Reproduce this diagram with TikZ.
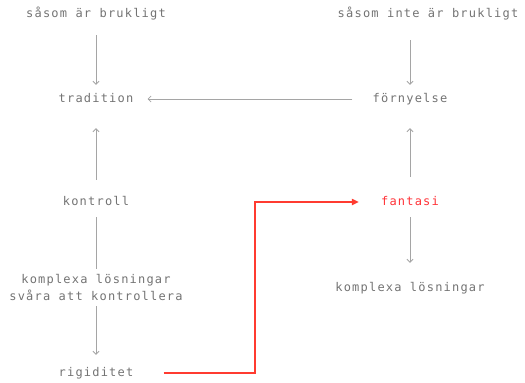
\documentclass[tikz,border=0pt]{standalone}
\usepackage{fontspec}
\usetikzlibrary{arrows.meta}
\newfontfamily\dmono{DejaVu Sans Mono}[LetterSpace=10]
\definecolor{txtgray}{RGB}{115,115,115}
\definecolor{linegray}{RGB}{165,165,165}
\definecolor{hotred}{RGB}{255,59,48}
\definecolor{redtxt}{RGB}{255,50,55}
\begin{document}
\begin{tikzpicture}[x=1pt,y=-1pt,
  lbl/.style={inner sep=0pt, text=txtgray, font=\dmono\fontsize{12}{17}\selectfont, text height=9pt, text depth=3pt},
  lbl2/.style={inner sep=0pt, text=txtgray, font=\dmono\fontsize{12}{17}\selectfont, align=center},
  conn/.style={draw=linegray, line width=0.8pt},
  arr/.style={conn, -{Straight Barb[length=3pt,width=6pt]}},
  redarr/.style={draw=hotred, line width=1.8pt, -{Triangle[length=7pt,width=6pt]}}]
\useasboundingbox (0,0) rectangle (525,383);
\node[lbl] (s1) at (96,14) {såsom är brukligt};
\node[lbl] (s2) at (428,14) {såsom inte är brukligt};
\node[lbl] (trad) at (96,99) {tradition};
\node[lbl] (forn) at (410,99) {förnyelse};
\node[lbl] (kon) at (96,202) {kontroll};
\node[lbl, text=redtxt] (fan) at (410,202) {fantasi};
\node[lbl2] (kl) at (96,287) {komplexa lösningar\\svåra att kontrollera};
\node[lbl] (kr) at (410,288) {komplexa lösningar};
\node[lbl] (rig) at (96,373) {rigiditet};
\draw[arr, shorten <=15pt, shorten >=8pt] (s1) -- (trad);
\draw[arr, shorten <=20pt, shorten >=8pt] (s2.south -| forn.north) -- (forn.north);
\draw[arr, shorten <=20pt, shorten >=14pt] (forn.west) -- (trad.east);
\draw[arr, shorten <=16pt, shorten >=23pt] (kon.north) -- (trad.south);
\draw[arr, shorten <=19pt, shorten >=23pt] (fan.north) -- (forn.south);
\draw[conn, shorten <=9pt, shorten >=5pt] (kon.south) -- (kl.north);
\draw[arr, shorten <=6pt, shorten >=12pt] (kl.south) -- (rig.north);
\draw[arr, shorten <=9pt, shorten >=19pt] (fan.south) -- (kr.north);
\coordinate (bend) at (255,373);
\draw[redarr, shorten <=30pt, shorten >=22pt] (rig.east) -- (bend) |- (fan.west);
\end{tikzpicture}
\end{document}
